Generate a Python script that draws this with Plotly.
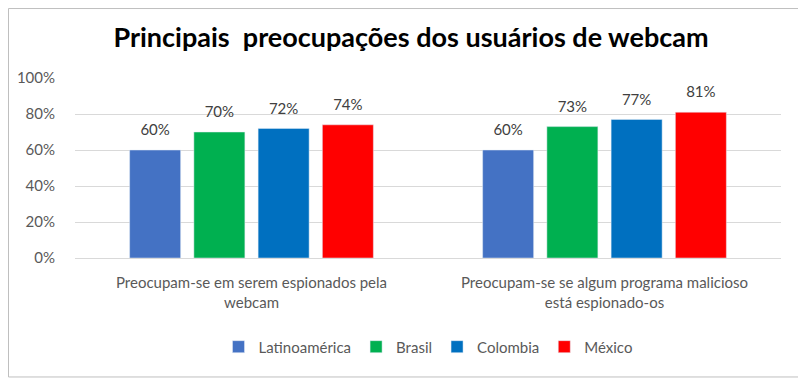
import plotly.graph_objects as go

categories = ["Preocupam-se em serem espionados pela<br>webcam",
              "Preocupam-se se algum programa malicioso<br>está espionado-os"]
series_names = ["Latinoamérica", "Brasil", "Colombia", "México"]
values = {
    "Latinoamérica": [0.60, 0.60],
    "Brasil": [0.70, 0.73],
    "Colombia": [0.72, 0.77],
    "México": [0.74, 0.81],
}
colors = ["#4472C4", "#00B050", "#0070C0", "#FF0000"]
y_ticks = [0, 0.2, 0.4, 0.6, 0.8, 1.0]

fig = go.Figure()
for name, col in zip(series_names, colors):
    fig.add_trace(go.Bar(
        x=categories, y=values[name], name=name, marker_color=col,
        offsetgroup=name, alignmentgroup="a",
    ))
for name in series_names:
    fig.add_trace(go.Scatter(
        x=categories, y=values[name], mode="markers+text", showlegend=False,
        text=[f"{v:.0%}" for v in values[name]], textposition="top center",
        textfont=dict(size=15, color="#404040", family="Lato"),
        marker=dict(size=16, color="rgba(0,0,0,0)"),
        offsetgroup=name, alignmentgroup="a", cliponaxis=False,
        hoverinfo="skip",
    ))

fig.update_layout(
    width=806, height=378,
    margin=dict(l=67, r=33, t=70, b=128, autoexpand=False),
    paper_bgcolor="white", plot_bgcolor="white",
    barmode="group", bargap=0.272, bargroupgap=0.206,
    scattermode="group", scattergap=0.272,
    title=dict(text="<b>Principais  preocupações dos usuários de webcam</b>",
               x=0.5, xanchor="center", y=0.921, yanchor="middle",
               font=dict(size=27, color="black", family="Lato")),
    font=dict(family="Lato", color="#595959", size=14),
    legend=dict(orientation="h", x=0.5, xanchor="center", y=-0.494, yanchor="middle",
                font=dict(size=15, color="#595959"), itemwidth=30,
                traceorder="normal"),
    yaxis=dict(range=[0, 1.0], tickvals=y_ticks, tickformat=".0%",
               gridcolor="#D9D9D9", gridwidth=1, zeroline=False,
               tickfont=dict(size=15, color="#595959"), ticks="", ticklen=0,
               ticklabelstandoff=19),
    xaxis=dict(showline=True, linecolor="#D9D9D9", linewidth=1,
               tickfont=dict(size=15, color="#595959"), ticks="",
               ticklabelstandoff=11),
    shapes=[dict(type="rect", xref="paper", yref="paper", x0=-0.0942, x1=1.034,
                 y0=-0.661, y1=1.386, line=dict(color="#BFBFBF", width=1))],
)

fig.write_html("out.html")
